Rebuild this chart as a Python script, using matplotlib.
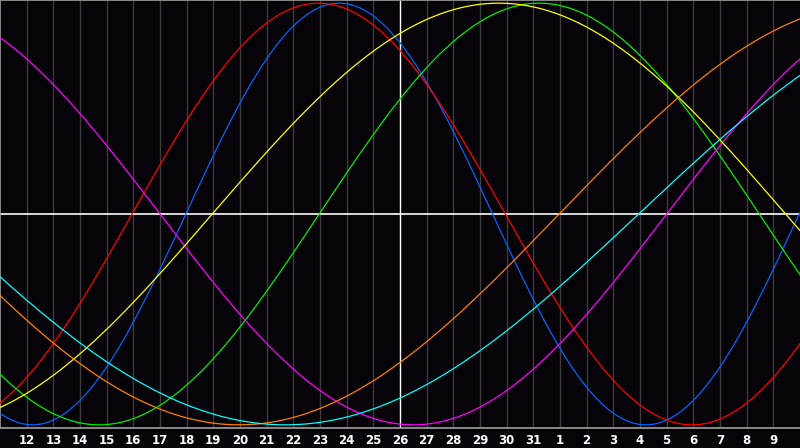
import numpy as np
import matplotlib
matplotlib.use("Agg")
import matplotlib.pyplot as plt

# day labels under each gridline (index 0 = first gridline at the left edge)
days = list(range(11, 32)) + list(range(1, 11))
today_index = 15

# cycles: colour, period in days, day index where the curve crosses zero going up
cycle_colors = ['#0064ff', '#ff0000', '#00ee00', '#ff00ff', '#ffff00', '#ff8000', '#00ffff']
cycle_periods = [23, 28, 33, 38, 43, 48, 53]
cycle_upcross = [6.97, 4.95, 11.97, 25.0, 7.96, 20.97, 23.95]

bg = '#060408'
fig = plt.figure(figsize=(8, 4.48), dpi=100, facecolor=bg)
ax = fig.add_axes([0, 20 / 448, 1, 428 / 448], facecolor=bg)

n = len(days) - 1
ax.set_xlim(0, n)
ax.set_ylim(-1.015, 1.015)

for i in range(1, n):
    if i != today_index:
        ax.axvline(i, color='#3c3c3c', lw=1.0, zorder=1)
ax.axvline(today_index, color='white', lw=1.0, zorder=2)
ax.axhline(0, color='white', lw=1.2, zorder=2)

t = np.linspace(0, n, 1201)
for c, p, u in zip(cycle_colors, cycle_periods, cycle_upcross):
    ax.plot(t, np.sin(2 * np.pi * (t - u) / p), color=c, lw=0.9, zorder=3)

ax.set_xticks(range(1, n))
ax.set_xticklabels([str(d) for d in days[1:n]], color='white',
                   fontsize=8.5, fontweight='bold')
ax.tick_params(axis='x', length=0, pad=4.5)
ax.set_yticks([])

for side in ['top', 'bottom', 'left']:
    ax.spines[side].set_color('#a0a0a0')
    ax.spines[side].set_linewidth(1.2)
ax.spines['right'].set_visible(False)

fig.savefig('out.png', dpi=100, facecolor=bg)
